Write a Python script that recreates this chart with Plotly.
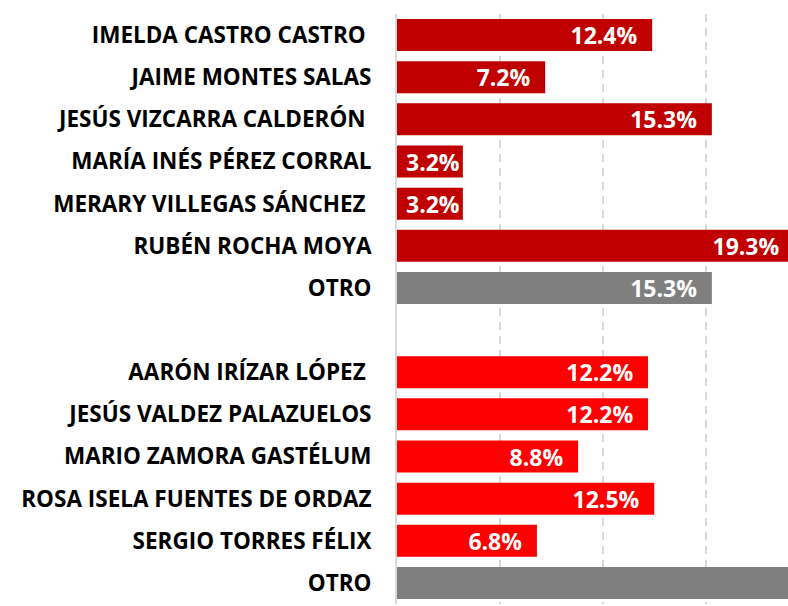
import plotly.graph_objects as go

# ---- data ----
group1_names = ["IMELDA CASTRO CASTRO ", "JAIME MONTES SALAS", "JESÚS VIZCARRA CALDERÓN ",
                "MARÍA INÉS PÉREZ CORRAL", "MERARY VILLEGAS SÁNCHEZ ", "RUBÉN ROCHA MOYA", "OTRO"]
group1_values = [12.4, 7.2, 15.3, 3.2, 3.2, 19.3, 15.3]

group2_names = ["AARÓN IRÍZAR LÓPEZ ", "JESÚS VALDEZ PALAZUELOS", "MARIO ZAMORA GASTÉLUM",
                "ROSA ISELA FUENTES DE ORDAZ", "SERGIO TORRES FÉLIX", "OTRO"]
group2_values = [12.2, 12.2, 8.8, 12.5, 6.8, 24.5]

COLOR_G1 = "#C00000"
COLOR_G2 = "#FF0000"
COLOR_OTRO = "#7F7F7F"
FONT = "Open Sans"

def keys(prefix, names):
    return [f"{prefix}{i}" for i in range(len(names))]

def labels(values):
    out = []
    for v in values:
        t = f"{v:.1f}%"
        if v > 5:
            t += "\u00a0\u00a0"
        out.append(t)
    return out

def colors(names, base):
    return [COLOR_OTRO if n.strip() == "OTRO" else base for n in names]

def nb(n):
    return n.replace(" ", "\u00a0") if n.endswith(" ") else n

k1 = keys("g1_", group1_names)
k2 = keys("g2_", group2_names)
order = k1 + ["gap"] + k2
ticktext = [nb(n) for n in group1_names] + [""] + [nb(n) for n in group2_names]

fig = go.Figure()
for k, v, names, base in [(k1, group1_values, group1_names, COLOR_G1),
                          (k2, group2_values, group2_names, COLOR_G2)]:
    fig.add_trace(go.Bar(
        y=k, x=v, orientation="h",
        marker=dict(color=colors(names, base), line=dict(width=0)),
        text=labels(v), textposition="inside", insidetextanchor="end",
        textfont=dict(family=FONT, size=23, color="white", weight="bold"),
        cliponaxis=True, constraintext="none",
    ))

fig.update_layout(
    width=788, height=606,
    margin=dict(l=397, r=0, t=14, b=2),
    paper_bgcolor="white", plot_bgcolor="white",
    showlegend=False, bargap=0.24,
    xaxis=dict(range=[0, 19.0], dtick=5, showticklabels=False, zeroline=False,
               showgrid=True, gridcolor="#D9D9D9", gridwidth=2, griddash="8px,6px"),
    yaxis=dict(type="category", categoryorder="array", categoryarray=order,
               tickvals=order, ticktext=ticktext, autorange="reversed",
               showline=True, linecolor="#D9D9D9", linewidth=2, ticks="",
               ticklabelstandoff=19, showgrid=False,
               tickfont=dict(family=FONT, size=22.5, color="black", weight="bold")),
)

fig.write_html("out.html", config={"displayModeBar": False},
               post_script="document.body.style.margin='0px';document.body.style.overflow='hidden';")
